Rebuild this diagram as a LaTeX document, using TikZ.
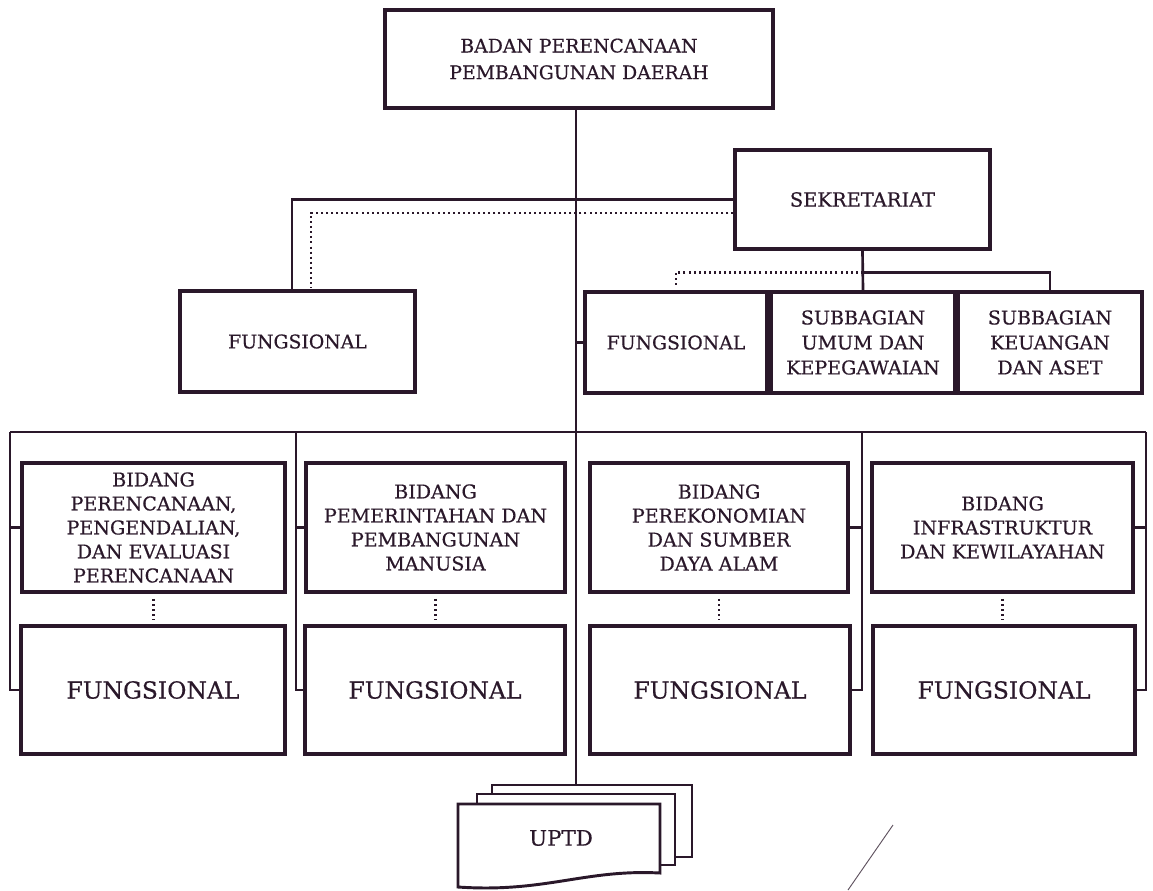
\documentclass[tikz,border=0pt]{standalone}
\usepackage{fontspec}
\setmainfont{DejaVu Serif}[FakeBold=0.5]
\usetikzlibrary{calc}
\definecolor{ink}{RGB}{42,24,42}
\newcommand{\pu}{0.75pt}
\tikzset{
  box/.style={draw=ink, line width=2.4pt, inner sep=0pt, align=center, text=ink},
  conn/.style={draw=ink, line width=2pt},
  dots/.style={draw=ink, line width=1.9pt, dash pattern=on 1.5pt off 2.3pt},
  sheet/.style={draw=ink, line width=2.2pt, line join=miter},
  ftop/.style={font={\fontsize{14.1}{20}\selectfont}},
  fsek/.style={font={\fontsize{14.6}{18}\selectfont}},
  fsmall/.style={font={\fontsize{14.1}{18}\selectfont}},
  fsub/.style={font={\fontsize{14.3}{18.75}\selectfont}},
  fbid/.style={font={\fontsize{14.3}{18}\selectfont}},
  fbig/.style={font={\fontsize{17.6}{22}\selectfont}},
}
\begin{document}
\begin{tikzpicture}[x=0.75pt, y=-0.75pt]
\fill[white] (0,0) rectangle (1153,890);
\useasboundingbox (0,0) rectangle (1153,890);

% top
\node[box, ftop, minimum width=388*\pu, minimum height=98*\pu] (top) at (579,59) {BADAN PERENCANAAN\\PEMBANGUNAN DAERAH};
\node[box, fsek, minimum width=255*\pu, minimum height=99*\pu] (sek) at (862.5,199.5) {SEKRETARIAT};

% second row
\node[box, fsmall, minimum width=235*\pu, minimum height=101*\pu] (fl) at (297.5,341.5) {FUNGSIONAL};
\node[box, fsmall, minimum width=182*\pu, minimum height=101*\pu] (fr) at (676,342.5) {FUNGSIONAL};
\node[box, fsub, minimum width=184*\pu, minimum height=101*\pu] (sbu) at (863,342.5) {SUBBAGIAN\\UMUM DAN\\KEPEGAWAIAN};
\node[box, fsub, minimum width=184*\pu, minimum height=101*\pu] (sbk) at (1050,342.5) {SUBBAGIAN\\KEUANGAN\\DAN ASET};

% bidang row
\node[box, fbid, minimum width=263*\pu, minimum height=129*\pu] (b1) at (153.5,527.5) {BIDANG\\PERENCANAAN,\\PENGENDALIAN,\\DAN EVALUASI\\PERENCANAAN};
\node[box, fbid, minimum width=259*\pu, minimum height=129*\pu] (b2) at (435.5,527.5) {BIDANG\\PEMERINTAHAN DAN\\PEMBANGUNAN\\MANUSIA};
\node[box, fbid, minimum width=258*\pu, minimum height=129*\pu] (b3) at (719,527.5) {BIDANG\\PEREKONOMIAN\\DAN SUMBER\\DAYA ALAM};
\node[box, fbid, minimum width=261*\pu, minimum height=129*\pu] (b4) at (1002.5,527.5) {BIDANG\\INFRASTRUKTUR\\DAN KEWILAYAHAN};

% fungsional row
\node[box, fbig, minimum width=264*\pu, minimum height=128*\pu] (f1) at (153,690) {FUNGSIONAL};
\node[box, fbig, minimum width=260*\pu, minimum height=128*\pu] (f2) at (435,690) {FUNGSIONAL};
\node[box, fbig, minimum width=260*\pu, minimum height=128*\pu] (f3) at (720,690) {FUNGSIONAL};
\node[box, fbig, minimum width=262*\pu, minimum height=128*\pu] (f4) at (1004,690) {FUNGSIONAL};

% UPTD stacked documents
\coordinate (u3) at (576,785);
\draw[sheet] (492,794) -- (492,785) -- (692,785) -- (692,857) -- (675,857);
\draw[sheet, fill=white] (477,804) -- (477,794) -- (675,794) -- (675,865) -- (660,865);
\draw[sheet, fill=white] (458,804) -- (660,804) -- (660,873)
   .. controls (585,869) and (545,893) .. (458,887) -- cycle;
\node[text=ink, font={\fontsize{16}{18}\selectfont}] (uptd) at (561,838) {UPTD};

% main vertical line
\draw[conn] (top.south -| u3) -- (u3);

% sekretariat links
\draw[conn] (sek.west) -| ([xshift=-4.1pt]fl.north);
\draw[dots] ([yshift=-10.1pt]sek.west) -| ([xshift=10.1pt,yshift=1pt]fl.north);
\path (sek.south) -- (sbu.north) coordinate[pos=0.55] (sj);
\draw[conn] (sek.south) -- (sbu.north);
\draw[conn] (sj) -| (sbk.north);
\draw[dots] (sj) -| ([yshift=3pt]fr.north);
\draw[conn] (u3 |- fr.west) -- (fr.west);

% bidang bus
\coordinate (v1) at (10,432);
\coordinate (v2) at (296,432);
\coordinate (v3) at (862,432);
\coordinate (v4) at (1146,432);
\draw[conn] (v1) -- (v4);
\draw[conn] (v1) |- (f1.west);
\draw[conn] (v1 |- b1.west) -- (b1.west);
\draw[conn] (v2) |- (f2.west);
\draw[conn] (v2 |- b2.west) -- (b2.west);
\draw[conn] (v3) |- (f3.east);
\draw[conn] (v3 |- b3.east) -- (b3.east);
\draw[conn] (v4) |- (f4.east);
\draw[conn] (v4 |- b4.east) -- (b4.east);

% dotted bidang-fungsional
\draw[dots] ([yshift=-4pt]b1.south) -- ([yshift=3pt]b1.south |- f1.north);
\draw[dots] ([yshift=-4pt]b2.south) -- ([yshift=3pt]b2.south |- f2.north);
\draw[dots] ([yshift=-4pt]b3.south) -- ([yshift=3pt]b3.south |- f3.north);
\draw[dots] ([yshift=-4pt]b4.south) -- ([yshift=3pt]b4.south |- f4.north);

% stray pen line
\draw[ink!75, line width=0.7pt] (893,825) -- (848,890);
\end{tikzpicture}
\end{document}
